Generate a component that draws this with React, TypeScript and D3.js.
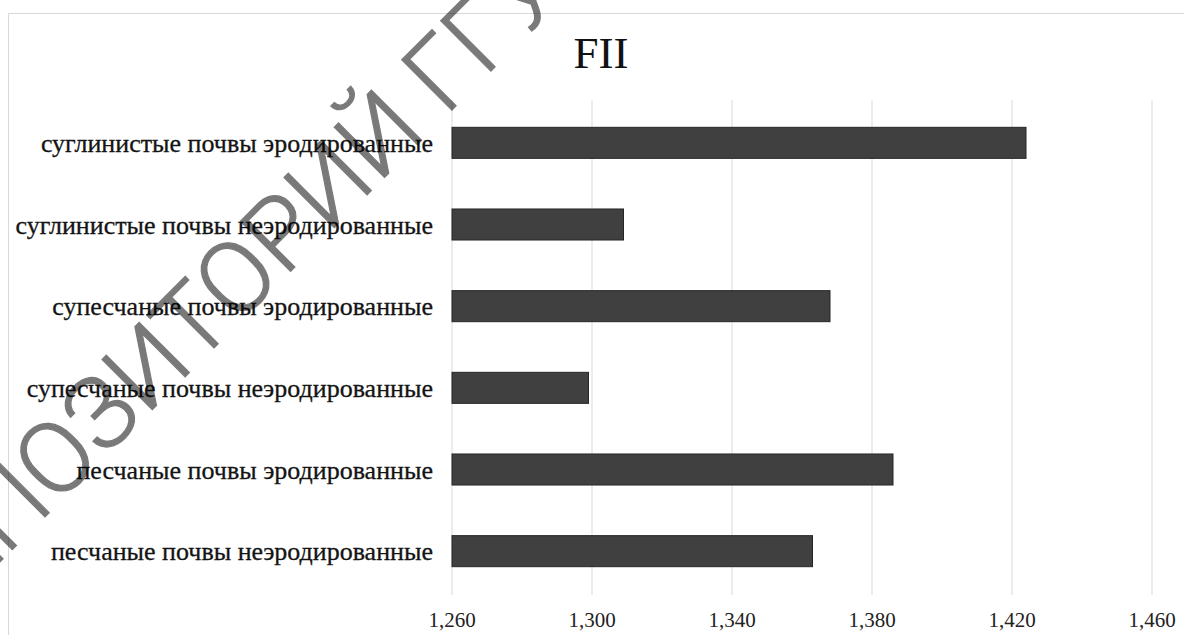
import React from "react";
import * as d3 from "d3";

const categories = [
  "суглинистые почвы эродированные",
  "суглинистые почвы неэродированные",
  "супесчаные почвы эродированные",
  "супесчаные почвы неэродированные",
  "песчаные почвы эродированные",
  "песчаные почвы неэродированные",
];
const values = [1424, 1309, 1368, 1299, 1386, 1363];
const xTicks = [1260, 1300, 1340, 1380, 1420, 1460];
const title = "FII";
const watermark = "РЕПОЗИТОРИЙ ГГУ";

const W = 1184;
const H = 635;
const plot = { left: 452, right: 1152, top: 102, bottom: 592 };
const serif = "'Liberation Serif', 'Times New Roman', serif";

export default function App() {
  const x = d3.scaleLinear().domain([1260, 1460]).range([plot.left, plot.right]);
  const y = d3
    .scaleBand<string>()
    .domain(categories)
    .range([plot.top, plot.bottom])
    .paddingInner(0.62)
    .paddingOuter(0.31);
  const fmt = d3.format(",");

  return (
    <div style={{ position: "fixed", left: 0, top: 0, width: W, height: H, background: "#fff" }}>
      <svg width={W} height={H} style={{ display: "block" }}>
        <rect x={0} y={0} width={W} height={H} fill="#fff" />
        {/* chart frame */}
        <rect x={8.5} y={13.5} width={W + 20} height={H + 20} fill="none" stroke="#d9d9d9" />

        <text x={601} y={68} textAnchor="middle" fontFamily={serif} fontSize={45} fill="#111">
          {title}
        </text>

        {/* vertical gridlines */}
        {xTicks.map((t) => (
          <line key={t} x1={x(t)} x2={x(t)} y1={100} y2={595} stroke="#d9d9d9" strokeWidth={1} />
        ))}

        {/* bars */}
        {categories.map((c, i) => (
          <rect
            key={c}
            x={x(1260)}
            y={y(c)!}
            width={x(values[i]) - x(1260)}
            height={y.bandwidth()}
            fill="#404040"
            stroke="#262626"
            strokeWidth={1}
          />
        ))}

        {/* category labels */}
        {categories.map((c) => (
          <text
            key={c}
            x={433}
            y={y(c)! + y.bandwidth() / 2}
            dy="0.35em"
            textAnchor="end"
            fontFamily={serif}
            fontSize={26}
            fill="#141414"
            stroke="#141414"
            strokeWidth={0.3}
          >
            {c}
          </text>
        ))}

        {/* value axis labels */}
        {xTicks.map((t) => (
          <text key={t} x={x(t)} y={627} textAnchor="middle" fontFamily={serif} fontSize={21} fill="#222">
            {fmt(t)}
          </text>
        ))}

        {/* repository stamp */}
        <g transform="translate(-78,640) rotate(-45)" opacity={0.52}>
          <text
            x={0}
            y={0}
            fontFamily="Roboto, 'Liberation Sans', sans-serif"
            fontWeight={300}
            fontSize={100}
            fill="#000"
            stroke="#000"
            strokeWidth={1.2}
          >
            {watermark}
          </text>
        </g>
      </svg>
    </div>
  );
}
